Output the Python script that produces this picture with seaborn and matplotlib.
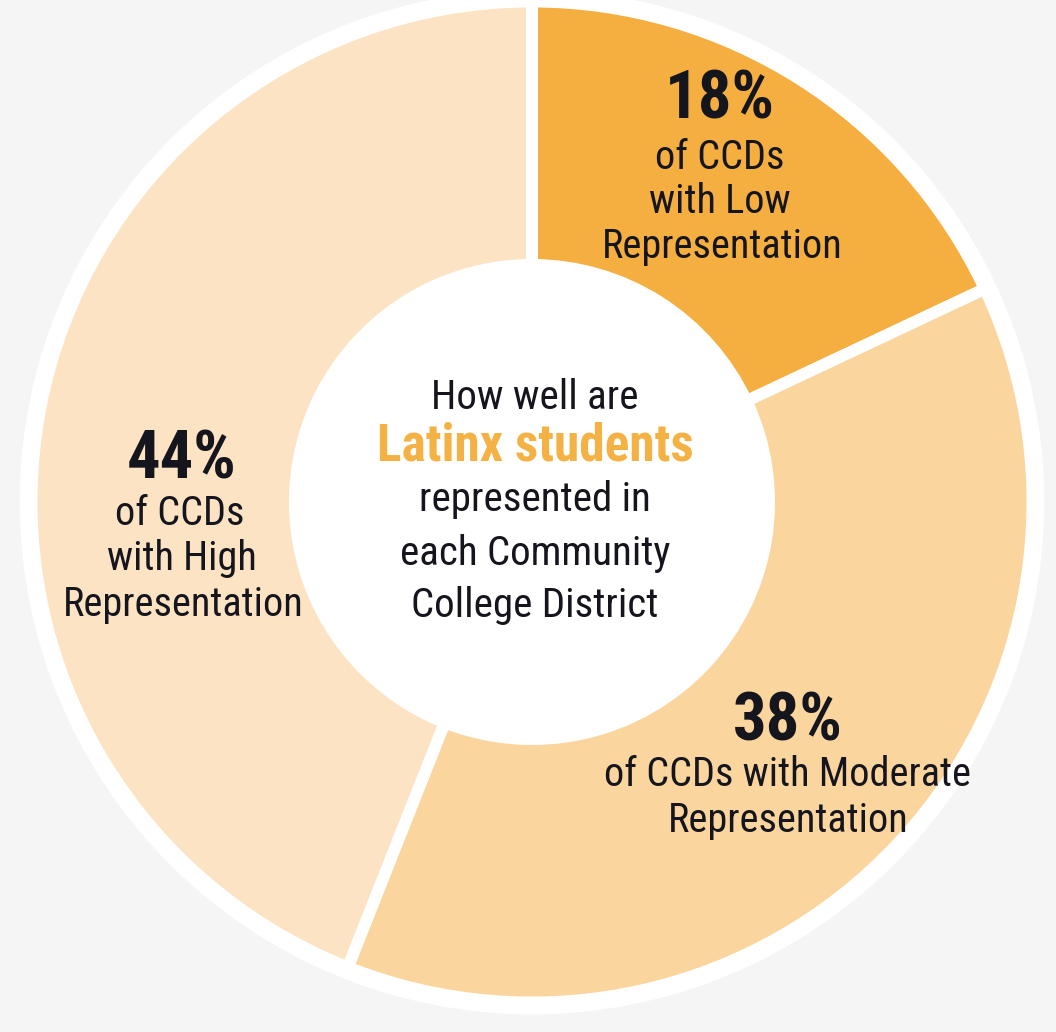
import matplotlib
matplotlib.use("Agg")
import matplotlib.pyplot as plt
import seaborn as sns
from matplotlib import font_manager
from matplotlib.font_manager import FontProperties
from matplotlib.patches import Circle

# Share of Community College Districts by level of Latinx student representation
categories = ["Low", "Moderate", "High"]
shares = [18, 38, 44]
slice_colors = ["#F5AE40", "#FAD59E", "#FCE3C3"]

sns.set_theme(style="white")
plt.rcParams["font.family"] = ["Roboto", "DejaVu Sans"]

INK = "#15151E"
ACCENT = "#F5B244"


def pick_condensed(bold):
    """Find an installed narrow/condensed face, regular or bold."""
    best = None
    for f in font_manager.fontManager.ttflist:
        name = f"{f.name} {f.fname}".lower()
        narrow = ("condensed" in name or "narrow" in name
                  or f.stretch in ("condensed", "semi-condensed", "extra-condensed"))
        if not narrow or f.style != "normal":
            continue
        w = f.weight if isinstance(f.weight, int) else (700 if "bold" in str(f.weight) else 400)
        if bold and w < 600:
            continue
        if not bold and w >= 600:
            continue
        score = 0
        for i, pref in enumerate(["roboto", "liberation", "open sans", "noto sans", "dejavu"]):
            if pref in name:
                score = 10 - i
        if "light" in name or "thin" in name or "black" in name or "semi" in name or "extra" in name:
            score -= 5
        if best is None or score > best[0]:
            best = (score, f.fname)
    return best[1] if best else None


reg_file = pick_condensed(False)
bold_file = pick_condensed(True)
if reg_file and bold_file:
    REG = FontProperties(fname=reg_file)
    BOLD = FontProperties(fname=bold_file)
    k = 1.0
else:
    REG = FontProperties(family=["Roboto", "DejaVu Sans"])
    BOLD = FontProperties(family=["Roboto", "DejaVu Sans"], weight="bold")
    k = 0.86

fig = plt.figure(figsize=(10.56, 10.32), dpi=100, facecolor="#F5F5F5")
ax = fig.add_axes([0, 0, 1, 1])
ax.set_facecolor("none")

# white halo behind the ring, also filling the hole
ax.add_patch(Circle((0, 0), 1.035, facecolor="white", edgecolor="none", zorder=0))

palette = sns.color_palette(slice_colors)
ax.pie(shares, colors=palette, startangle=90, counterclock=False, radius=1.011,
       wedgeprops=dict(width=0.532, edgecolor="white", linewidth=8.5))

ax.set_xlim(-532 / 495, (1056 - 532) / 495)
ax.set_ylim(-(1032 - 502) / 495, 502 / 495)
ax.set_aspect("equal")
ax.axis("off")


def px(x, y):
    return (x - 532) / 495, (502 - y) / 495


def put(xy, s, size, bold=False, color=INK):
    fp = (BOLD if bold else REG).copy()
    fp.set_size(size * k)
    ax.text(*px(*xy), s, ha="center", va="center", fontproperties=fp, color=color)


def label_block(pct, lines, head_xy, line_xys):
    put(head_xy, pct, 48, bold=True)
    for line, xy in zip(lines, line_xys):
        put(xy, line, 29)


label_block(f"{shares[0]}%", ["of CCDs", "with Low", "Representation"],
            (720, 100), [(720, 157), (720, 201), (722, 246)])
label_block(f"{shares[2]}%", ["of CCDs", "with High", "Representation"],
            (182, 460), [(180, 513), (182, 558), (183, 604)])
label_block(f"{shares[1]}%", ["of CCDs with Moderate", "Representation"],
            (788, 722), [(788, 775), (788, 820)])

# centre question
put((535, 397), "How well are", 29.5)
put((535, 446), "Latinx students", 37, bold=True, color=ACCENT)
put((535, 499), "represented in", 29.5)
put((535, 553), "each Community", 29.5)
put((535, 605), "College District", 29.5)

fig.savefig("out.png", dpi=100, facecolor=fig.get_facecolor())
